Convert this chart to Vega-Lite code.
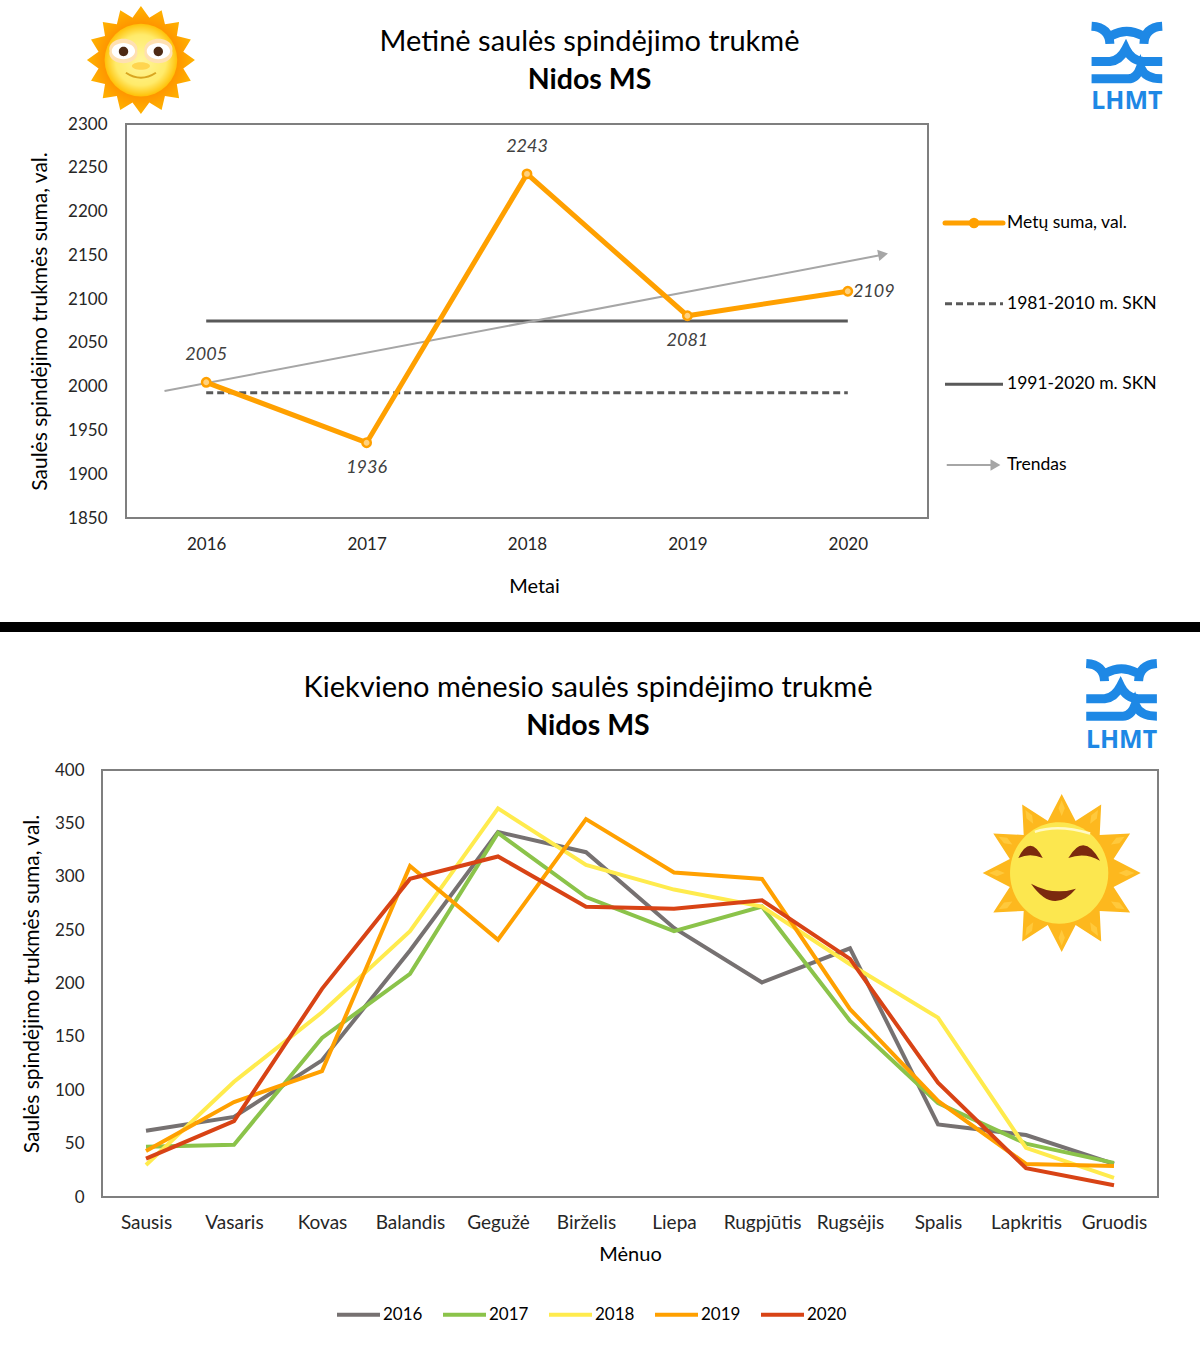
{
  "$schema": "https://vega.github.io/schema/vega-lite/v6.json",
  "width": 1200,
  "height": 1350,
  "autosize": {"type": "fit", "contains": "padding"},
  "padding": 0,
  "background": "white",
  "config": {
    "font": "Lato",
    "view": {"stroke": null},
    "axis": {"grid": false, "domain": false, "ticks": false, "labelFontSize": 17, "titleFontSize": 21, "titleFontWeight": "normal", "labelColor": "#262626", "titleColor": "#000000", "labelFlush": false, "labelOverlap": false}
  },
  "resolve": {"scale": {"x": "independent", "y": "independent", "color": "independent", "strokeDash": "independent", "size": "independent"}},
  "layer": [
    {
      "layer": [
        {
          "data": {"values": [{}]},
          "mark": {"type": "rect", "fill": null, "fillOpacity": 0, "stroke": "#7f7f7f", "strokeWidth": 2},
          "encoding": {
            "x": {"datum": 2015.5, "type": "quantitative", "title": "Metai", "scale": {"domain": [2015.5, 2020.5], "range": [126, 928]}, "axis": {"orient": "bottom", "offset": -832, "values": [2016, 2017, 2018, 2019, 2020], "format": "d", "labelPadding": 18, "titlePadding": 24, "titleFontSize": 20, "titleX": 534}},
            "x2": {"datum": 2020.5},
            "y": {"datum": 1850, "type": "quantitative", "title": "Saulės spindėjimo trukmės suma, val.", "scale": {"domain": [1850, 2300], "range": [518, 124]}, "axis": {"orient": "left", "offset": -126, "values": [1850, 1900, 1950, 2000, 2050, 2100, 2150, 2200, 2250, 2300], "format": "d", "labelPadding": 19, "titlePadding": 17}},
            "y2": {"datum": 2300}
          }
        },
        {
          "data": {"values": [{"year": 2016, "hours": 1993}, {"year": 2020, "hours": 1993}]},
          "mark": {"type": "line", "color": "#595959", "strokeWidth": 3, "strokeDash": [7, 4]},
          "encoding": {"x": {"field": "year", "type": "quantitative", "title": "Metai"}, "y": {"field": "hours", "type": "quantitative", "title": "Saulės spindėjimo trukmės suma, val."}}
        },
        {
          "data": {"values": [{"year": 2016, "hours": 2075}, {"year": 2020, "hours": 2075}]},
          "mark": {"type": "line", "color": "#595959", "strokeWidth": 3},
          "encoding": {"x": {"field": "year", "type": "quantitative", "title": "Metai"}, "y": {"field": "hours", "type": "quantitative", "title": "Saulės spindėjimo trukmės suma, val."}}
        },
        {
          "data": {"values": [{"year": 2015.74, "hours": 1995}, {"year": 2020.2, "hours": 2150}]},
          "mark": {"type": "line", "color": "#a6a6a6", "strokeWidth": 2},
          "encoding": {"x": {"field": "year", "type": "quantitative", "title": "Metai"}, "y": {"field": "hours", "type": "quantitative", "title": "Saulės spindėjimo trukmės suma, val."}}
        },
        {
          "data": {"values": [{}]},
          "mark": {"type": "point", "shape": "triangle-right", "filled": true, "color": "#a6a6a6", "opacity": 1, "size": 130, "angle": -10.7},
          "encoding": {"x": {"datum": 2020.22}, "y": {"datum": 2151}}
        },
        {
          "data": {"name": "annual", "values": [{"year": 2016, "hours": 2005}, {"year": 2017, "hours": 1936}, {"year": 2018, "hours": 2243}, {"year": 2019, "hours": 2081}, {"year": 2020, "hours": 2109}]},
          "encoding": {"x": {"field": "year", "type": "quantitative", "title": "Metai"}, "y": {"field": "hours", "type": "quantitative", "title": "Saulės spindėjimo trukmės suma, val."}},
          "layer": [
            {"mark": {"type": "line", "color": "#FFA000", "strokeWidth": 5}},
            {"mark": {"type": "point", "filled": true, "fill": "#FFD27F", "stroke": "#FFA000", "strokeWidth": 2.5, "opacity": 1, "size": 70}},
            {
              "transform": [{"filter": "datum.year == 2016 || datum.year == 2018"}],
              "mark": {"type": "text", "fontSize": 18, "fontStyle": "italic", "color": "#404040", "dy": -27},
              "encoding": {"text": {"field": "hours", "type": "quantitative", "format": "d"}}
            },
            {
              "transform": [{"filter": "datum.year == 2017 || datum.year == 2019"}],
              "mark": {"type": "text", "fontSize": 18, "fontStyle": "italic", "color": "#404040", "dy": 25},
              "encoding": {"text": {"field": "hours", "type": "quantitative", "format": "d"}}
            },
            {
              "transform": [{"filter": "datum.year == 2020"}],
              "mark": {"type": "text", "fontSize": 18, "fontStyle": "italic", "color": "#404040", "dx": 26, "dy": 1},
              "encoding": {"text": {"field": "hours", "type": "quantitative", "format": "d"}}
            }
          ]
        },
        {
          "data": {"values": [{}]},
          "mark": {"type": "text", "text": "Metinė saulės spindėjimo trukmė", "fontSize": 29, "color": "#000000"},
          "encoding": {"x": {"datum": 2018.39}, "y": {"datum": 2394}}
        },
        {
          "data": {"values": [{}]},
          "mark": {"type": "text", "text": "Nidos MS", "fontSize": 28.5, "fontWeight": "bold", "color": "#000000"},
          "encoding": {"x": {"datum": 2018.39}, "y": {"datum": 2350.5}}
        },
        {
          "data": {"values": [{}]},
          "encoding": {"x": {"datum": 2021.74}, "y": {"datum": 2382}},
          "mark": {"type": "point", "filled": false, "opacity": 1, "stroke": "#1E88E5", "strokeWidth": 9, "size": 5041, "shape": "M-.995 -.732Q-.498 -.704 -.479 -.235M.995 -.732Q.498 -.704 .479 -.235M-.432 -.469Q-.009 -.704 .432 -.469M-.995 .263H-.479Q-.197 .235 -.028 -.094Q.131 .235 .46 .263H.995M-.995 .751H.038Q.272 .751 .385 .423Q.507 .751 .995 .751"}
        },
        {
          "data": {"values": [{}]},
          "mark": {"type": "text", "text": "LHMT", "font": "Noto Sans", "fontSize": 25, "fontWeight": "bold", "color": "#1E88E5"},
          "encoding": {"x": {"datum": 2021.74}, "y": {"datum": 2326.3}}
        },
        {
          "data": {"values": [{}]},
          "encoding": {"x": {"datum": 2015.593}, "y": {"datum": 2373}},
          "layer": [
            {"mark": {"type": "point", "filled": true, "opacity": 1, "size": 11664, "fill": {"gradient": "radial", "stops": [{"offset": 0.6, "color": "#FF8F00"}, {"offset": 1, "color": "#FFB300"}]}, "stroke": null, "shape": "M0 -1L.156 -.785L.383 -.924L.445 -.665L.707 -.707L.665 -.445L.924 -.383L.785 -.156L1 0L.785 .156L.924 .383L.665 .445L.707 .707L.445 .665L.383 .924L.156 .785L0 1L-.156 .785L-.383 .924L-.445 .665L-.707 .707L-.665 .445L-.924 .383L-.785 .156L-1 0L-.785 -.156L-.924 -.383L-.665 -.445L-.707 -.707L-.445 -.665L-.383 -.924L-.156 -.785Z"}},
            {"mark": {"type": "point", "filled": true, "opacity": 1, "size": 5281, "shape": "circle", "stroke": null, "fill": {"gradient": "radial", "stops": [{"offset": 0, "color": "#FFF59D"}, {"offset": 0.7, "color": "#FFEB6B"}, {"offset": 1, "color": "#FFC107"}]}}},
            {"mark": {"type": "point", "filled": true, "opacity": 1, "size": 11664, "stroke": null, "fill": "#FFE0B2", "shape": "M.07 -.167A.26 .19 0 1 1 .58 -.167A.26 .19 0 1 1 .07 -.167ZM-.07 -.167A.26 .19 0 1 0 -.58 -.167A.26 .19 0 1 0 -.07 -.167Z"}},
            {"mark": {"type": "point", "filled": true, "opacity": 1, "size": 11664, "stroke": null, "fill": "#FFFFFF", "shape": "M.108 -.167A.216 .15 0 1 1 .54 -.167A.216 .15 0 1 1 .108 -.167ZM-.108 -.167A.216 .15 0 1 0 -.54 -.167A.216 .15 0 1 0 -.108 -.167Z"}},
            {"mark": {"type": "point", "filled": true, "opacity": 1, "size": 11664, "stroke": null, "fill": "#4E2A14", "shape": "M.235 -.16A.087 .087 0 1 1 .409 -.16A.087 .087 0 1 1 .235 -.16ZM-.235 -.16A.087 .087 0 1 0 -.409 -.16A.087 .087 0 1 0 -.235 -.16Z"}},
            {"mark": {"type": "point", "filled": true, "opacity": 1, "size": 11664, "stroke": null, "fill": "#FFD54F", "shape": "M-.167 .11A.167 .07 0 1 1 .167 .11A.167 .07 0 1 1 -.167 .11Z"}},
            {"mark": {"type": "point", "filled": false, "opacity": 1, "size": 11664, "stroke": "#D9A520", "strokeWidth": 2, "shape": "M-.278 .235Q0 .42 .278 .235"}}
          ]
        }
      ]
    },
    {
      "data": {"values": [{"label": "Metų suma, val."}, {"label": "1981-2010 m. SKN"}, {"label": "1991-2020 m. SKN"}, {"label": "Trendas"}]},
      "layer": [
        {
          "transform": [{"filter": "datum.label == 'Metų suma, val.'"}],
          "mark": {"type": "rule", "color": "#FFA000", "strokeWidth": 5, "strokeCap": "round"},
          "encoding": {
            "x": {"datum": 0, "type": "quantitative", "scale": {"domain": [0, 1], "range": [945, 1003]}, "axis": null},
            "x2": {"datum": 1},
            "y": {"field": "label", "type": "nominal", "sort": null, "scale": {"type": "point", "padding": 0, "domain": ["Metų suma, val.", "1981-2010 m. SKN", "1991-2020 m. SKN", "Trendas"], "range": [223, 465]}, "axis": null}
          }
        },
        {
          "transform": [{"filter": "datum.label == 'Metų suma, val.'"}],
          "mark": {"type": "point", "filled": true, "color": "#FFA000", "opacity": 1, "size": 110},
          "encoding": {"x": {"datum": 0.5}, "y": {"field": "label", "type": "nominal"}}
        },
        {
          "transform": [{"filter": "datum.label == '1981-2010 m. SKN'"}],
          "mark": {"type": "rule", "color": "#595959", "strokeWidth": 3, "strokeDash": [7, 4]},
          "encoding": {"x": {"datum": 0}, "x2": {"datum": 1}, "y": {"field": "label", "type": "nominal"}}
        },
        {
          "transform": [{"filter": "datum.label == '1991-2020 m. SKN'"}],
          "mark": {"type": "rule", "color": "#595959", "strokeWidth": 3},
          "encoding": {"x": {"datum": 0}, "x2": {"datum": 1}, "y": {"field": "label", "type": "nominal"}}
        },
        {
          "transform": [{"filter": "datum.label == 'Trendas'"}],
          "mark": {"type": "rule", "color": "#a6a6a6", "strokeWidth": 2},
          "encoding": {"x": {"datum": 0.03}, "x2": {"datum": 0.85}, "y": {"field": "label", "type": "nominal"}}
        },
        {
          "transform": [{"filter": "datum.label == 'Trendas'"}],
          "mark": {"type": "point", "shape": "triangle-right", "filled": true, "color": "#a6a6a6", "opacity": 1, "size": 130},
          "encoding": {"x": {"datum": 0.87}, "y": {"field": "label", "type": "nominal"}}
        },
        {
          "mark": {"type": "text", "align": "left", "fontSize": 17.5, "color": "#000000", "dx": 4},
          "encoding": {"x": {"datum": 1}, "y": {"field": "label", "type": "nominal"}, "text": {"field": "label", "type": "nominal"}}
        }
      ]
    },
    {
      "data": {"values": [
        {"month": "Sausis", "year": "2016", "hours": 62},
        {"month": "Vasaris", "year": "2016", "hours": 75},
        {"month": "Kovas", "year": "2016", "hours": 128},
        {"month": "Balandis", "year": "2016", "hours": 231},
        {"month": "Gegužė", "year": "2016", "hours": 342},
        {"month": "Birželis", "year": "2016", "hours": 323},
        {"month": "Liepa", "year": "2016", "hours": 252},
        {"month": "Rugpjūtis", "year": "2016", "hours": 201},
        {"month": "Rugsėjis", "year": "2016", "hours": 233},
        {"month": "Spalis", "year": "2016", "hours": 68},
        {"month": "Lapkritis", "year": "2016", "hours": 58},
        {"month": "Gruodis", "year": "2016", "hours": 31},
        {"month": "Sausis", "year": "2017", "hours": 47},
        {"month": "Vasaris", "year": "2017", "hours": 49},
        {"month": "Kovas", "year": "2017", "hours": 149},
        {"month": "Balandis", "year": "2017", "hours": 209},
        {"month": "Gegužė", "year": "2017", "hours": 341},
        {"month": "Birželis", "year": "2017", "hours": 281},
        {"month": "Liepa", "year": "2017", "hours": 249},
        {"month": "Rugpjūtis", "year": "2017", "hours": 272},
        {"month": "Rugsėjis", "year": "2017", "hours": 165},
        {"month": "Spalis", "year": "2017", "hours": 88},
        {"month": "Lapkritis", "year": "2017", "hours": 50},
        {"month": "Gruodis", "year": "2017", "hours": 32},
        {"month": "Sausis", "year": "2018", "hours": 30},
        {"month": "Vasaris", "year": "2018", "hours": 108},
        {"month": "Kovas", "year": "2018", "hours": 173},
        {"month": "Balandis", "year": "2018", "hours": 249},
        {"month": "Gegužė", "year": "2018", "hours": 364},
        {"month": "Birželis", "year": "2018", "hours": 311},
        {"month": "Liepa", "year": "2018", "hours": 288},
        {"month": "Rugpjūtis", "year": "2018", "hours": 272},
        {"month": "Rugsėjis", "year": "2018", "hours": 218},
        {"month": "Spalis", "year": "2018", "hours": 168},
        {"month": "Lapkritis", "year": "2018", "hours": 46},
        {"month": "Gruodis", "year": "2018", "hours": 18},
        {"month": "Sausis", "year": "2019", "hours": 43},
        {"month": "Vasaris", "year": "2019", "hours": 89},
        {"month": "Kovas", "year": "2019", "hours": 118},
        {"month": "Balandis", "year": "2019", "hours": 310},
        {"month": "Gegužė", "year": "2019", "hours": 241},
        {"month": "Birželis", "year": "2019", "hours": 354},
        {"month": "Liepa", "year": "2019", "hours": 304},
        {"month": "Rugpjūtis", "year": "2019", "hours": 298},
        {"month": "Rugsėjis", "year": "2019", "hours": 176},
        {"month": "Spalis", "year": "2019", "hours": 90},
        {"month": "Lapkritis", "year": "2019", "hours": 31},
        {"month": "Gruodis", "year": "2019", "hours": 29},
        {"month": "Sausis", "year": "2020", "hours": 36},
        {"month": "Vasaris", "year": "2020", "hours": 71},
        {"month": "Kovas", "year": "2020", "hours": 195},
        {"month": "Balandis", "year": "2020", "hours": 298},
        {"month": "Gegužė", "year": "2020", "hours": 319},
        {"month": "Birželis", "year": "2020", "hours": 272},
        {"month": "Liepa", "year": "2020", "hours": 270},
        {"month": "Rugpjūtis", "year": "2020", "hours": 278},
        {"month": "Rugsėjis", "year": "2020", "hours": 223},
        {"month": "Spalis", "year": "2020", "hours": 107},
        {"month": "Lapkritis", "year": "2020", "hours": 27},
        {"month": "Gruodis", "year": "2020", "hours": 11}
      ]},
      "mark": {"type": "line", "strokeWidth": 4},
      "encoding": {
        "x": {"field": "month", "type": "nominal", "sort": null, "title": "Mėnuo", "scale": {"type": "point", "padding": 0.5, "domain": ["Sausis", "Vasaris", "Kovas", "Balandis", "Gegužė", "Birželis", "Liepa", "Rugpjūtis", "Rugsėjis", "Spalis", "Lapkritis", "Gruodis"], "range": [102, 1158]}, "axis": {"orient": "bottom", "offset": -153, "labelAngle": 0, "labelFontSize": 19, "labelPadding": 16, "titlePadding": 12, "titleFontSize": 20}},
        "y": {"field": "hours", "type": "quantitative", "title": "Saulės spindėjimo trukmės suma, val.", "scale": {"domain": [0, 400], "range": [1197, 770]}, "axis": {"orient": "left", "offset": -102, "values": [0, 50, 100, 150, 200, 250, 300, 350, 400], "labelPadding": 18, "titlePadding": 12}},
        "color": {"field": "year", "type": "nominal", "title": null, "scale": {"domain": ["2016", "2017", "2018", "2019", "2020"], "range": ["#767171", "#8BC34A", "#FFEB4D", "#FFA000", "#D84315"]}, "legend": {"orient": "none", "direction": "horizontal", "legendX": 335, "legendY": 1291, "symbolType": "stroke", "symbolSize": 1849, "symbolStrokeWidth": 4, "labelFontSize": 17, "labelColor": "#000000", "labelOffset": 1, "columnPadding": 12}}
      }
    },
    {
      "data": {"values": [{}]},
      "layer": [
        {
          "mark": {"type": "rect", "fill": null, "fillOpacity": 0, "stroke": "#7f7f7f", "strokeWidth": 2},
          "encoding": {
            "x": {"datum": 0, "type": "quantitative", "scale": {"domain": [0, 1], "range": [102, 1158]}, "axis": null},
            "x2": {"datum": 1},
            "y": {"datum": 0, "type": "quantitative", "scale": {"domain": [0, 1], "range": [1197, 770]}, "axis": null},
            "y2": {"datum": 1}
          }
        },
        {
          "mark": {"type": "rect", "color": "#000000"},
          "encoding": {"y": {"datum": 1.3466}, "y2": {"datum": 1.3232}}
        },
        {
          "mark": {"type": "text", "text": "Kiekvieno mėnesio saulės spindėjimo trukmė", "fontSize": 29, "color": "#000000"},
          "encoding": {"x": {"datum": 0.4602}, "y": {"datum": 1.192}}
        },
        {
          "mark": {"type": "text", "text": "Nidos MS", "fontSize": 28.5, "fontWeight": "bold", "color": "#000000"},
          "encoding": {"x": {"datum": 0.4602}, "y": {"datum": 1.103}}
        },
        {
          "mark": {"type": "point", "filled": false, "opacity": 1, "stroke": "#1E88E5", "strokeWidth": 9, "size": 5041, "shape": "M-.995 -.732Q-.498 -.704 -.479 -.235M.995 -.732Q.498 -.704 .479 -.235M-.432 -.469Q-.009 -.704 .432 -.469M-.995 .263H-.479Q-.197 .235 -.028 -.094Q.131 .235 .46 .263H.995M-.995 .751H.038Q.272 .751 .385 .423Q.507 .751 .995 .751"},
          "encoding": {"x": {"datum": 0.9655}, "y": {"datum": 1.1885}}
        },
        {
          "mark": {"type": "text", "text": "LHMT", "font": "Noto Sans", "fontSize": 25, "fontWeight": "bold", "color": "#1E88E5"},
          "encoding": {"x": {"datum": 0.9655}, "y": {"datum": 1.0703}}
        },
        {
          "encoding": {"x": {"datum": 0.9088}, "y": {"datum": 0.7588}},
          "layer": [
            {"mark": {"type": "point", "filled": true, "opacity": 1, "size": 24964, "stroke": null, "fill": "#FDB81E", "shape": "M0 -1L.176 -.657L.5 -.866L.481 -.481L.866 -.5L.657 -.176L1 0L.657 .176L.866 .5L.481 .481L.5 .866L.176 .657L0 1L-.176 .657L-.5 .866L-.481 .481L-.866 .5L-.657 .176L-1 0L-.657 -.176L-.866 -.5L-.481 -.481L-.5 -.866L-.176 -.657Z"}},
            {"mark": {"type": "point", "filled": true, "opacity": 1, "size": 24964, "stroke": null, "fill": "#FFC93C", "shape": "M0 -.72L.04 -.82L0 -.92L-.04 -.82ZM.36 -.624L.445 -.69L.46 -.797L.375 -.73ZM.624 -.36L.73 -.375L.797 -.46L.69 -.445ZM.72 0L.82 .04L.92 0L.82 -.04ZM.624 .36L.73 .375L.797 .46L.69 .445ZM.36 .624L.445 .69L.46 .797L.375 .73ZM0 .72L.04 .82L0 .92L-.04 .82ZM-.36 .624L-.445 .69L-.46 .797L-.375 .73ZM-.624 .36L-.73 .375L-.797 .46L-.69 .445ZM-.72 0L-.82 .04L-.92 0L-.82 -.04ZM-.624 -.36L-.73 -.375L-.797 -.46L-.69 -.445ZM-.36 -.624L-.445 -.69L-.46 -.797L-.375 -.73Z"}},
            {"mark": {"type": "point", "filled": true, "opacity": 1, "size": 8398, "shape": "circle", "stroke": null, "fill": "#FFD426"}},
            {"mark": {"type": "point", "filled": true, "opacity": 1, "size": 24964, "stroke": null, "fill": "#FCE74F", "shape": "M-.654 0A.62 .64 0 1 1 .59 0A.62 .64 0 1 1 -.654 0Z"}},
            {"mark": {"type": "point", "filled": false, "opacity": 1, "size": 24964, "stroke": "#FFF9C4", "strokeWidth": 2.5, "shape": "M-.34 -.52Q-.05 -.62 .36 -.5"}},
            {"mark": {"type": "point", "filled": true, "opacity": 1, "size": 24964, "stroke": null, "fill": "#7B2A0E", "shape": "M-.549 -.19Q-.40 -.5 -.24 -.19Q-.40 -.26 -.549 -.19ZM.084 -.19Q.28 -.53 .485 -.156Q.29 -.27 .084 -.19ZM-.388 .135Q-.105 .54 .181 .198Q-.105 .29 -.388 .135Z"}}
          ]
        }
      ]
    }
  ]
}
